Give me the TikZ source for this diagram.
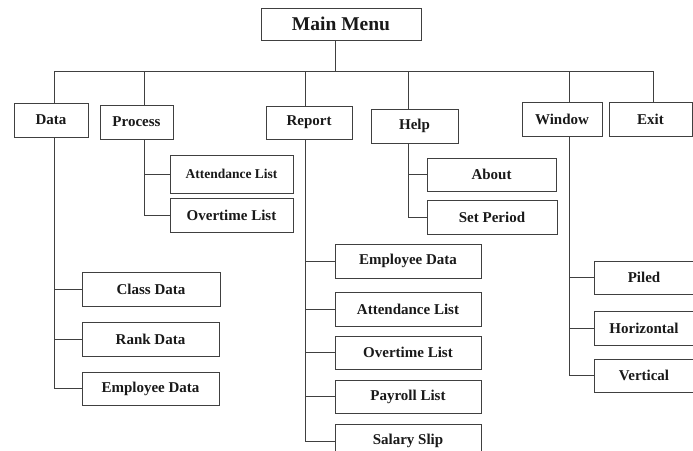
\documentclass[tikz,border=0pt]{standalone}
\usepackage{fontspec}
\setmainfont{Liberation Serif}
\begin{document}
\begin{tikzpicture}[x=1pt,y=-1pt,
  line width=1pt, draw=black!75,
  box/.style={draw, rectangle, inner sep=0pt, font=\bfseries\fontsize{15}{17}\selectfont, text=black!90},
  link/.style={draw=black!75, line width=1pt}]
\useasboundingbox (0,0) rectangle (693,450);
\clip (0,0) rectangle (693,450);
% top level
\node[box, minimum width=160pt, minimum height=32pt, font=\bfseries\fontsize{19.5}{21}\selectfont] (main) at (341,24) {Main Menu};
\node[box, minimum width=74pt, minimum height=34pt] (data) at (51,120) {Data};
\node[box, minimum width=73pt, minimum height=34pt] (process) at (136.5,122) {Process};
\node[box, minimum width=86pt, minimum height=33pt] (report) at (309,122.5) {Report};
\node[box, minimum width=87pt, minimum height=34pt] (help) at (414.5,126) {Help};
\node[box, minimum width=80pt, minimum height=34pt] (window) at (562,119) {Window};
\node[box, minimum width=83pt, minimum height=34pt] (exit) at (650.5,119) {Exit};
% bus
\coordinate (b-main) at (335,71);
\coordinate (b-data) at (54,71);
\coordinate (b-process) at (144,71);
\coordinate (b-report) at (305,71);
\coordinate (b-help) at (408,71);
\coordinate (b-window) at (569,71);
\coordinate (b-exit) at (653,71);
\draw[link] (b-main |- main.south) -- (b-main);
\draw[link] (b-data) -- (b-exit);
\draw[link] (b-data) -- (b-data |- data.north);
\draw[link] (b-process) -- (b-process |- process.north);
\draw[link] (b-report) -- (b-report |- report.north);
\draw[link] (b-help) -- (b-help |- help.north);
\draw[link] (b-window) -- (b-window |- window.north);
\draw[link] (b-exit) -- (b-exit |- exit.north);
% process
\node[box, minimum width=123pt, minimum height=38pt, font=\bfseries\fontsize{13.5}{15}\selectfont] (p-att) at (231.5,174) {Attendance List};
\node[box, minimum width=123pt, minimum height=34pt] (p-ovt) at (231.5,215) {Overtime List};
\draw[link] (b-process |- process.south) |- (p-ovt.west);
\draw[link] (b-process |- p-att.west) -- (p-att.west);
% help
\node[box, minimum width=129pt, minimum height=33pt] (h-about) at (491.5,174.5) {About};
\node[box, minimum width=130pt, minimum height=34pt] (h-period) at (492,217) {Set Period};
\draw[link] (b-help |- help.south) |- (h-period.west);
\draw[link] (b-help |- h-about.west) -- (h-about.west);
% data
\node[box, minimum width=138pt, minimum height=34pt] (d-class) at (151,289) {Class Data};
\node[box, minimum width=137pt, minimum height=34pt] (d-rank) at (150.5,339) {Rank Data};
\node[box, minimum width=137pt, minimum height=33pt] (d-emp) at (150.5,388.5) {Employee Data};
\draw[link] (b-data |- data.south) |- (d-emp.west);
\draw[link] (b-data |- d-class.west) -- (d-class.west);
\draw[link] (b-data |- d-rank.west) -- (d-rank.west);
% report
\node[box, minimum width=146pt, minimum height=34pt] (r-emp) at (408,261) {Employee Data};
\node[box, minimum width=146pt, minimum height=34pt] (r-att) at (408,309) {Attendance List};
\node[box, minimum width=146pt, minimum height=33pt] (r-ovt) at (408,352.5) {Overtime List};
\node[box, minimum width=146pt, minimum height=33pt] (r-pay) at (408,396.5) {Payroll List};
\node[box, minimum width=146pt, minimum height=34pt] (r-slip) at (408,441) {Salary Slip};
\draw[link] (b-report |- report.south) |- (r-slip.west);
\foreach \n in {r-emp,r-att,r-ovt,r-pay}
  \draw[link] (b-report |- \n.west) -- (\n.west);
% window
\node[box, minimum width=100pt, minimum height=33pt] (w-piled) at (644,277.5) {Piled};
\node[box, minimum width=100pt, minimum height=34pt] (w-horiz) at (644,328) {Horizontal};
\node[box, minimum width=100pt, minimum height=33pt] (w-vert) at (644,375.5) {Vertical};
\draw[link] (b-window |- window.south) |- (w-vert.west);
\draw[link] (b-window |- w-piled.west) -- (w-piled.west);
\draw[link] (b-window |- w-horiz.west) -- (w-horiz.west);
\end{tikzpicture}
\end{document}
